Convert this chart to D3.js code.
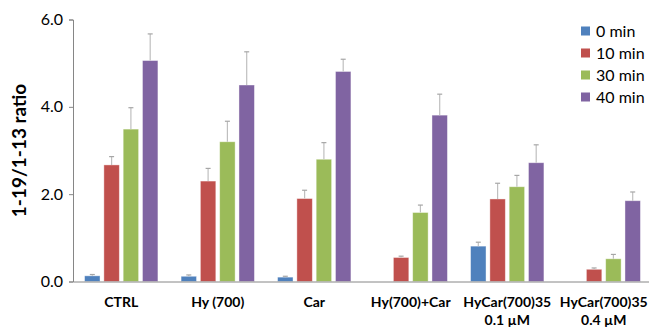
<!DOCTYPE html>
<html><head><meta charset="utf-8">
<script src="https://cdn.jsdelivr.net/npm/d3@7"></script>
<style>html,body{margin:0;padding:0;background:#fff;}svg{display:block;}</style>
</head><body>
<svg id="chart" width="649" height="327"></svg>
<script>
const categories = [["CTRL"], ["Hy (700)"], ["Car"], ["Hy(700)+Car"], ["HyCar(700)35", "0.1 \u00b5M"], ["HyCar(700)35", "0.4 \u00b5M"]];
const seriesNames = ["0 min", "10 min", "30 min", "40 min"];
const seriesColors = ["#4F81BD", "#C0504D", "#9BBB59", "#8064A2"];
const values0  = [0.13, 0.12, 0.10, 0, 0.81, 0];
const values10 = [2.67, 2.30, 1.90, 0.55, 1.89, 0.28];
const values30 = [3.49, 3.20, 2.80, 1.58, 2.17, 0.52];
const values40 = [5.06, 4.50, 4.81, 3.81, 2.72, 1.85];
const err0  = [0.03, 0.03, 0.02, 0, 0.09, 0];
const err10 = [0.19, 0.29, 0.19, 0.03, 0.36, 0.03];
const err30 = [0.49, 0.47, 0.38, 0.17, 0.26, 0.10];
const err40 = [0.61, 0.76, 0.28, 0.48, 0.41, 0.20];
const yTicks = [0, 2, 4, 6];
const yTitle = "1-19/1-13 ratio";

(function() {
const values = [values0, values10, values30, values40];
const errs = [err0, err10, err30, err40];

const svg = d3.select("#chart");
const mLeft = 73, mRight = 652, mTop = 19.5, mBottom = 281.5;
const catKeys = categories.map((c, i) => i);
const x0 = d3.scaleBand().domain(catKeys).range([mLeft, mRight]).padding(0);
const x1 = d3.scaleBand().domain(d3.range(4)).range([0, x0.bandwidth()]).paddingInner(0.2).paddingOuter(0.6);
const y = d3.scaleLinear().domain([0, 6]).range([mBottom, mTop]);

const font = "Lato, 'Open Sans', sans-serif";

// y axis
const yAxis = svg.append("g").attr("transform", `translate(${mLeft},0)`)
  .call(d3.axisLeft(y).tickValues(yTicks).tickSize(4).tickPadding(6).tickFormat(d3.format(".1f")));
yAxis.select(".domain").attr("stroke", "#868686");
yAxis.selectAll(".tick line").attr("stroke", "#868686");
yAxis.selectAll(".tick text").attr("font-family", font).attr("font-size", 16).attr("fill", "#000");

// bars
const groups = svg.append("g").selectAll("g").data(catKeys).join("g")
  .attr("transform", d => `translate(${x0(d)},0)`);
const rows = ci => values.map((v, si) => ({si, v: v[ci], e: errs[si][ci]})).filter(d => d.v > 0);
groups.selectAll("rect").data(rows)
  .join("rect")
  .attr("x", d => x1(d.si)).attr("width", x1.bandwidth())
  .attr("y", d => y(d.v)).attr("height", d => y(0) - y(d.v))
  .attr("fill", d => seriesColors[d.si])
  .attr("stroke", "#fff").attr("stroke-opacity", 0.5).attr("stroke-width", 0.8);

// error bars
const eb = groups.selectAll("g.err").data(rows)
  .join("g").attr("class", "err");
eb.append("line")
  .attr("x1", d => x1(d.si) + x1.bandwidth() / 2).attr("x2", d => x1(d.si) + x1.bandwidth() / 2)
  .attr("y1", d => y(d.v)).attr("y2", d => y(d.v + d.e))
  .attr("stroke", "#BFBFBF").attr("stroke-width", 1.2);
eb.append("line")
  .attr("x1", d => x1(d.si) + x1.bandwidth() / 2 - 2.5).attr("x2", d => x1(d.si) + x1.bandwidth() / 2 + 2.5)
  .attr("y1", d => y(d.v + d.e)).attr("y2", d => y(d.v + d.e))
  .attr("stroke", "#A6A6A6").attr("stroke-width", 1.2);

// x axis
const xAxis = svg.append("g").attr("transform", `translate(0,${mBottom})`)
  .call(d3.axisBottom(x0).tickSize(0).tickFormat(""));
xAxis.select(".domain").attr("stroke", "#868686");
xAxis.selectAll(".tick").each(function(d) {
  const t = d3.select(this).append("text").attr("font-family", font).attr("font-weight", "bold")
    .attr("font-size", 14).attr("fill", "#000").attr("text-anchor", "middle");
  categories[d].forEach((line, i) => {
    t.append("tspan").attr("x", 0).attr("y", 25 + i * 18).text(line);
  });
});

// y title
svg.append("text").attr("transform", `translate(26,${(mTop + mBottom) / 2}) rotate(-90)`)
  .attr("text-anchor", "middle").attr("font-family", font).attr("font-weight", "bold")
  .attr("font-size", 19).text(yTitle);

// legend
const lg = svg.append("g").attr("transform", "translate(581,31)");
const li = lg.selectAll("g").data(seriesNames).join("g").attr("transform", (d, i) => `translate(0,${i * 22})`);
li.append("rect").attr("x", 0).attr("y", -4.5).attr("width", 9).attr("height", 9).attr("fill", (d, i) => seriesColors[i]);
li.append("text").attr("x", 15).attr("y", 0).attr("dy", "0.35em").attr("font-family", font)
  .attr("font-size", 16).text(d => d);
})();
</script>
</body></html>
